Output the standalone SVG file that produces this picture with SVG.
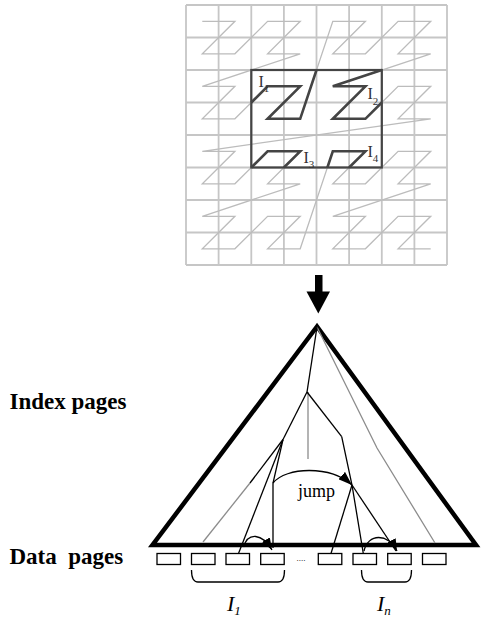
<svg xmlns="http://www.w3.org/2000/svg" width="481" height="618" viewBox="0 0 481 618">
<style>
.grid{stroke:#c6c6c6;stroke-width:1.8;fill:none}
.zl{stroke:#bcbcbc;stroke-width:1.3;fill:none;stroke-linejoin:miter}
.zd{stroke:#444;stroke-width:2.6;fill:none;stroke-linejoin:miter}
.qbox{stroke:#444;stroke-width:2.2;fill:none}
.gl{font-family:"Liberation Serif",serif;fill:#333;font-size:16px}
.gs{font-size:11px}
.edge{stroke:#000;stroke-width:1.3;fill:none}
.gedge{stroke:#8c8c8c;stroke-width:1.3;fill:none}
.page{stroke:#000;stroke-width:1.3;fill:#fff}
.lbl{font-family:"Liberation Serif",serif;font-weight:bold;font-size:23px;fill:#000;white-space:pre}
.it{font-family:"Liberation Serif",serif;font-style:italic;fill:#000}
</style>
<defs>
<marker id="ah" viewBox="0 0 14 10" refX="14" refY="5" markerWidth="14" markerHeight="10" markerUnits="userSpaceOnUse" orient="auto"><path d="M0,0 L14,5 L0,10 z" fill="#000"/></marker>
<marker id="ahs" viewBox="0 0 12 9" refX="12" refY="4.5" markerWidth="12" markerHeight="9" markerUnits="userSpaceOnUse" orient="auto"><path d="M0,0 L12,4.5 L0,9 z" fill="#000"/></marker>
</defs>

<g id="grid">
<path class="grid" d="M186,5V265M218.6,5V265M251.3,5V265M283.9,5V265M316.5,5V265M349.1,5V265M381.8,5V265M414.4,5V265M447,5V265M186,5H447M186,37.5H447M186,70H447M186,102.5H447M186,135H447M186,167.5H447M186,200H447M186,232.5H447M186,265H447"/>
</g>

<g id="z-curve">
<polyline class="zl" points="202.3,21.3 234.9,21.3 202.3,53.8 234.9,53.8 267.6,21.3 300.2,21.3 267.6,53.8 300.2,53.8 202.3,86.3 234.9,86.3 202.3,118.8 234.9,118.8 267.6,86.3 300.2,86.3 267.6,118.8 300.2,118.8 332.8,21.3 365.4,21.3 332.8,53.8 365.4,53.8 398.1,21.3 430.7,21.3 398.1,53.8 430.7,53.8 332.8,86.3 365.4,86.3 332.8,118.8 365.4,118.8 398.1,86.3 430.7,86.3 398.1,118.8 430.7,118.8 202.3,151.3 234.9,151.3 202.3,183.8 234.9,183.8 267.6,151.3 300.2,151.3 267.6,183.8 300.2,183.8 202.3,216.3 234.9,216.3 202.3,248.8 234.9,248.8 267.6,216.3 300.2,216.3 267.6,248.8 300.2,248.8 332.8,151.3 365.4,151.3 332.8,183.8 365.4,183.8 398.1,151.3 430.7,151.3 398.1,183.8 430.7,183.8 332.8,216.3 365.4,216.3 332.8,248.8 365.4,248.8 398.1,216.3 430.7,216.3 398.1,248.8 430.7,248.8"/>
</g>

<g id="query">
<rect class="qbox" x="251.3" y="70" width="130.5" height="97.5"/>
<polyline id="I1-run" class="zd" points="251.3,102.5 267.6,86.3 300.2,86.3 267.6,118.8 300.2,118.8 316.5,70"/>
<polyline id="I2-run" class="zd" points="381.8,70 332.8,86.3 365.4,86.3 332.8,118.8 365.4,118.8 381.8,102.5"/>
<polyline id="I3-run" class="zd" points="251.3,167.5 267.6,151.3 300.2,151.3 283.9,167.5"/>
<polyline id="I4-run" class="zd" points="327.4,167.5 332.8,151.3 365.4,151.3 349.1,167.5"/>
<text class="gl" x="258.5" y="87">I<tspan class="gs" y="92">1</tspan></text>
<text class="gl" x="367.5" y="99">I<tspan class="gs" y="104.5">2</tspan></text>
<text class="gl" x="303.5" y="163">I<tspan class="gs" y="167.5">3</tspan></text>
<text class="gl" x="367.5" y="157">I<tspan class="gs" y="162">4</tspan></text>
</g>

<g id="down-arrow">
<rect x="315" y="275" width="7.5" height="17" fill="#000"/>
<polygon points="306.5,291.5 330,291.5 318.3,313.5" fill="#000"/>
</g>

<g id="index-tree">
<path d="M317,326.5 L152.5,545 L476,545 Z" fill="none" stroke="#000" stroke-width="4.5" stroke-linejoin="miter"/>
</g>

<g id="labels">
<text class="lbl" x="9.5" y="409">Index pages</text>
<text class="lbl" x="9.5" y="564" xml:space="preserve">Data  pages</text>
<text x="298" y="496.5" font-family="Liberation Serif, serif" font-size="18" fill="#000">jump</text>
</g>

<g id="data-pages">
<g id="p1"><rect class="page" x="157" y="553.5" width="23.5" height="11"/></g>
<g id="p2"><rect class="page" x="191.5" y="553.5" width="23.5" height="11"/></g>
<g id="p3"><rect class="page" x="226" y="553.5" width="23.5" height="11"/></g>
<g id="p4"><rect class="page" x="260.7" y="553.5" width="23.5" height="11"/></g>
<text x="296.5" y="561" font-family="Liberation Serif, serif" font-size="9" fill="#000">....</text>
<g id="p5"><rect class="page" x="318.3" y="553.5" width="23.5" height="11"/></g>
<g id="p6"><rect class="page" x="353" y="553.5" width="23.5" height="11"/></g>
<g id="p7"><rect class="page" x="387.7" y="553.5" width="23.5" height="11"/></g>
<g id="p8"><rect class="page" x="422.5" y="553.5" width="23.5" height="11"/></g>
</g>

<g id="connectors">
<path class="gedge" d="M317,327 L377,448 L435,543"/>
<path class="gedge" d="M308,392 V459"/>
<path class="gedge" d="M250,483 L203,542"/>
<path class="edge" d="M317,327 L307,392"/>
<path class="edge" d="M307,392 L283,439.5"/>
<path class="edge" d="M307,392 L341.7,436.7"/>
<path class="edge" d="M283,439.5 L250,483"/>
<path class="edge" d="M283,439.5 L238.5,553.5"/>
<path class="edge" d="M283,439.5 L273,483 V548"/>
<path class="edge" d="M341.7,436.7 L352,485 L363.3,553.5"/>
<path class="edge" d="M352,485 L331,553.5"/>
<path class="edge" d="M352,485 L396,551"/>
<path class="edge" d="M273,483 C286,467 330,465 352,485" marker-end="url(#ah)"/>
<path class="edge" d="M243.5,547 C248,532 262,533 272,550" marker-end="url(#ahs)"/>
<path class="edge" d="M364,551 C368,533 388,533 397,551" marker-end="url(#ahs)"/>
<path class="edge" d="M191.5,570 Q191.5,582 198,582 H278 Q284.5,582 284.5,570"/>
<path class="edge" d="M361.5,570 Q361.5,582 368,582 H405 Q411.5,582 411.5,570"/>
</g>

<g id="interval-labels">
<text class="it" x="227" y="611" font-size="22">I<tspan font-size="13" y="614.5">1</tspan></text>
<text class="it" x="377" y="611" font-size="22">I<tspan font-size="13" y="614.5">n</tspan></text>
</g>
</svg>
